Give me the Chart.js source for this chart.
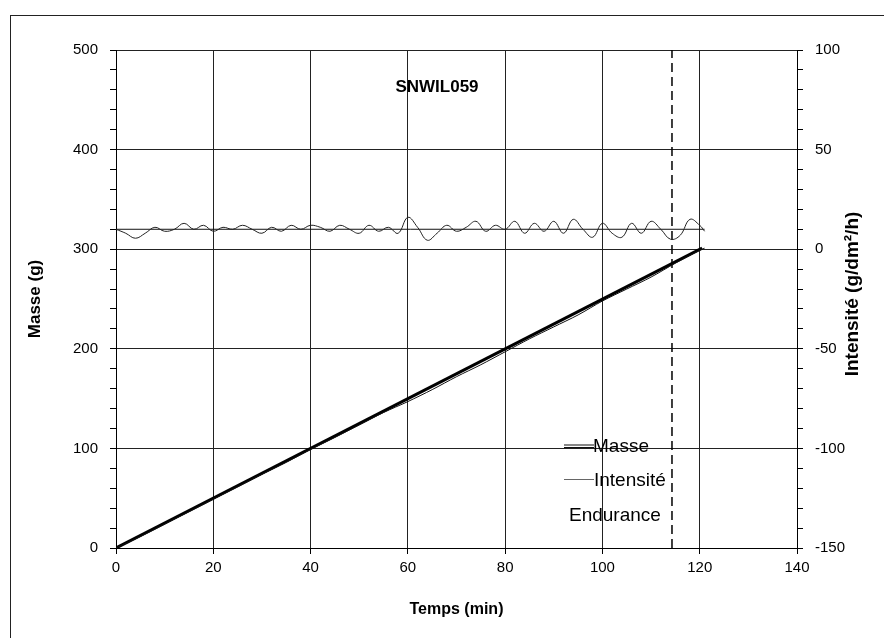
<!DOCTYPE html>
<html>
<head>
<meta charset="utf-8">
<script src="https://cdn.jsdelivr.net/npm/chart.js@4.4.1/dist/chart.umd.min.js"></script>
<style>
  html, body { margin: 0; padding: 0; background: #fff; overflow: hidden; }
  #frame { position: absolute; left: 10px; top: 15px; width: 1000px; height: 1000px; border: 1px solid #222; }
  #wrap { position: absolute; left: 0; top: 0; width: 884px; height: 638px; }
</style>
</head>
<body>
<div id="frame"></div>
<div id="wrap"><canvas id="chart" width="884" height="638"></canvas></div>
<script>
// Chart data
const chartTitle = "SNWIL059";

const masseTime = [0, 5, 10, 15, 20, 25, 30, 35, 40, 45, 50, 55, 60, 65, 70, 75, 80, 85, 90, 95, 100, 105, 110, 115, 120, 121];
const masseValues = [0, 11.5, 24, 36.5, 49, 61.5, 74, 86, 99, 111, 123.5, 136, 147, 159, 172, 184, 197, 210, 222, 234, 248, 260, 272, 286, 299, 301];

const masseFitTime = [0, 120.5];
const masseFitValues = [0, 301];

const intensiteTime = [0, 2, 4, 6, 8, 10, 12, 14, 16, 18, 20, 22, 24, 26, 28, 30, 32, 34, 36, 38, 40,
  42, 44, 46, 48, 50, 52, 54, 56, 58, 60, 62, 64, 66, 68, 70, 72, 74, 76, 78, 80,
  82, 84, 86, 88, 90, 92, 94, 96, 98, 100, 102, 104, 106, 108, 110, 112, 114, 116, 118, 120, 121];
const intensiteValues = [10, 8, 5.5, 8, 11, 9, 10, 13, 10, 12, 9, 11, 10, 12, 10, 8, 11, 9, 12, 10, 12,
  11, 9, 12, 10, 8, 12, 9, 11, 8, 16, 11, 4.5, 8, 12, 9, 11, 14, 9, 12, 10,
  14, 8, 13, 9, 14, 8, 15, 10, 6, 13, 8, 6, 13, 8, 14, 10, 5, 7, 15, 12, 9];

const intensiteMeanTime = [0, 121];
const intensiteMeanValues = [10, 10];

const enduranceTime = 114.3;
const enduranceRange = [0, 500];

const xTickMax = 140;
const masseMax = 500;
const intensiteMin = -150;
const intensiteMax = 100;

const toPoints = (xs, ys) => xs.map((x, i) => ({ x: x, y: ys[i] }));

const FONT = "'Liberation Sans', Arial, sans-serif";

// Texts drawn on top: title, legend, right axis title
const overlayPlugin = {
  id: "overlay",
  afterDraw(chart) {
    const ctx = chart.ctx;
    const area = chart.chartArea;
    ctx.save();
    ctx.fillStyle = "#000";
    ctx.textBaseline = "middle";

    // title
    ctx.font = "bold 17px " + FONT;
    ctx.textAlign = "center";
    ctx.fillText(chartTitle, 437, 87);

    // legend
    ctx.font = "19px " + FONT;
    ctx.textAlign = "left";
    ctx.strokeStyle = "#111";
    ctx.lineWidth = 1;
    ctx.beginPath(); ctx.moveTo(564, 445); ctx.lineTo(594, 445); ctx.stroke();
    ctx.beginPath(); ctx.moveTo(564, 447.5); ctx.lineTo(594, 447.5); ctx.stroke();
    ctx.fillText("Masse", 593, 447);
    ctx.strokeStyle = "#666";
    ctx.beginPath(); ctx.moveTo(564, 479.5); ctx.lineTo(594, 479.5); ctx.stroke();
    ctx.fillText("Intensité", 594, 481);
    ctx.fillText("Endurance", 569, 516);

    // right axis title, reading bottom to top
    ctx.font = "bold 19px " + FONT;
    ctx.textAlign = "center";
    ctx.translate(853, (area.top + area.bottom) / 2 - 5);
    ctx.rotate(-Math.PI / 2);
    ctx.fillText("Intensité (g/dm²/h)", 0, 0);
    ctx.restore();
  }
};

new Chart(document.getElementById("chart"), {
  type: "line",
  data: {
    datasets: [
      {
        label: "Masse",
        data: toPoints(masseTime, masseValues),
        borderColor: "#111",
        borderWidth: 1,
        pointRadius: 0,
        tension: 0.3,
        yAxisID: "y"
      },
      {
        label: "Masse (droite)",
        data: toPoints(masseFitTime, masseFitValues),
        borderColor: "#000",
        borderWidth: 3,
        pointRadius: 0,
        yAxisID: "y"
      },
      {
        label: "Intensité",
        data: toPoints(intensiteTime, intensiteValues),
        borderColor: "#222",
        borderWidth: 1,
        pointRadius: 0,
        tension: 0.4,
        yAxisID: "y2"
      },
      {
        label: "Intensité moyenne",
        data: toPoints(intensiteMeanTime, intensiteMeanValues),
        borderColor: "#111",
        borderWidth: 1,
        pointRadius: 0,
        yAxisID: "y2"
      },
      {
        label: "Endurance",
        data: enduranceRange.map((y) => ({ x: enduranceTime, y: y })),
        borderColor: "#000",
        borderWidth: 1.5,
        borderDash: [9, 5],
        pointRadius: 0,
        yAxisID: "y"
      }
    ]
  },
  options: {
    responsive: false,
    animation: false,
    layout: { padding: { top: 50, left: 0, right: 0, bottom: 0 } },
    plugins: {
      legend: { display: false },
      tooltip: { enabled: false }
    },
    scales: {
      x: {
        type: "linear",
        min: 0,
        max: xTickMax,
        ticks: { stepSize: 20, color: "#000", font: { family: FONT, size: 15 }, padding: 5, maxRotation: 0 },
        grid: { color: "#222", lineWidth: 1, tickLength: 6, tickColor: "#000" },
        border: { color: "#000", width: 1 },
        title: { display: true, text: "Temps (min)", color: "#000", font: { family: FONT, size: 16, weight: "bold" }, padding: { bottom: 19 } },
        afterFit(scale) { scale.height = 90; }
      },
      y: {
        position: "left",
        min: 0,
        max: masseMax,
        ticks: {
          stepSize: 20,
          autoSkip: false,
          color: "#000",
          font: { family: FONT, size: 15 },
          padding: 12,
          callback: (v) => (v % 100 === 0 ? v : "")
        },
        grid: {
          color: (c) => (c.tick && c.tick.value % 100 === 0 ? "#222" : "rgba(0,0,0,0)"),
          lineWidth: 1,
          tickLength: 6,
          tickColor: "#000"
        },
        border: { color: "#000", width: 1 },
        title: { display: true, text: "Masse (g)", color: "#000", font: { family: FONT, size: 17, weight: "bold" }, padding: { top: 25 } },
        afterFit(scale) { scale.width = 116; }
      },
      y2: {
        position: "right",
        min: intensiteMin,
        max: intensiteMax,
        ticks: {
          stepSize: 10,
          autoSkip: false,
          color: "#000",
          font: { family: FONT, size: 15 },
          padding: 12,
          callback: (v) => (v % 50 === 0 ? v : "")
        },
        grid: { drawOnChartArea: false, tickLength: 6, tickColor: "#000" },
        border: { color: "#000", width: 1 },
        afterFit(scale) { scale.width = 87; }
      }
    }
  },
  plugins: [overlayPlugin]
});
</script>
</body>
</html>
